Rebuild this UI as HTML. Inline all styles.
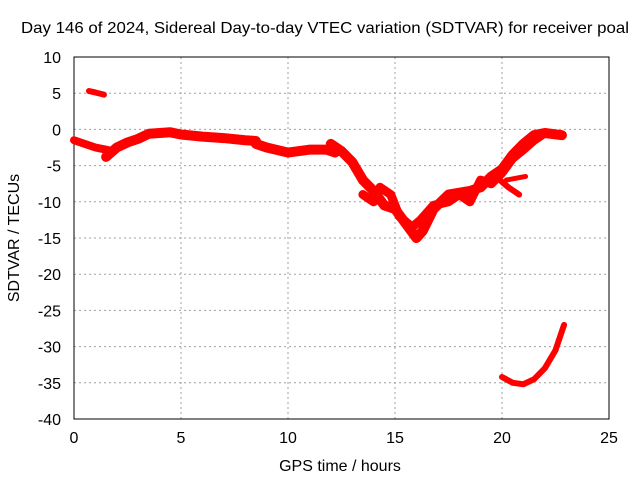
<!DOCTYPE html>
<html><head><meta charset="utf-8"><style>
body{margin:0;background:#fff}
svg text{font-family:"Liberation Sans",sans-serif;font-size:16px;fill:#000}
</style></head><body>
<svg id="c" width="640" height="480">
<rect x="0" y="0" width="640" height="480" fill="#fff"/>
<g id="grid"></g><g id="axes"></g><g id="data"></g>
<text x="325" y="33" text-anchor="middle" textLength="608" lengthAdjust="spacingAndGlyphs">Day 146 of 2024, Sidereal Day-to-day VTEC variation (SDTVAR) for receiver poal</text>
<text x="340" y="471" text-anchor="middle">GPS time / hours</text>
<text transform="translate(19,238) rotate(-90)" text-anchor="middle">SDTVAR / TECUs</text>
</svg>
<script>
const xTicks=[0,5,10,15,20,25];
const yTicks=[10,5,0,-5,-10,-15,-20,-25,-30,-35,-40];
const s1=[[0,-1.5],[0.5,-2],[1,-2.5],[1.5,-2.8],[1.8,-3]];
const s2=[[0.7,5.3],[1,5.1],[1.4,4.8]];
const s3=[[1.5,-3.8],[2,-2.5],[2.5,-1.8],[3,-1.3],[3.5,-0.6],[4,-0.5],[4.5,-0.4],[5,-0.7],[6,-1],[7,-1.2],[8,-1.5],[8.5,-1.6]];
const s4=[[8.5,-2],[9,-2.5],[10,-3.2],[11,-2.8],[11.8,-2.8],[12.2,-3.2]];
const s5=[[12,-2],[12.5,-3],[13,-4.5],[13.5,-7],[14,-8.5],[14.5,-10.5],[15,-11],[15.5,-13],[16,-15],[16.3,-14],[16.8,-11],[17.5,-9],[18.5,-8.5],[19,-8],[19.5,-6.5],[20,-5.5],[20.5,-3.5],[21,-2],[21.5,-0.8],[22,-0.5],[22.8,-0.8]];
const s6=[[13.5,-9],[14,-10],[14.3,-8],[14.8,-9],[15.2,-12],[15.8,-13.5],[16.2,-12.5],[16.8,-10.5],[17.5,-10],[18,-9],[18.5,-10],[19,-7],[19.5,-7.5],[20,-6],[20.5,-4],[21,-2.8],[21.5,-1.5],[22,-0.5],[22.8,-0.8]];
const s7=[[19.7,-6.5],[20.3,-8],[20.8,-9]];
const s8=[[20.2,-7],[21.1,-6.5]];
const s9=[[20,-34.2],[20.5,-35],[21,-35.2],[21.5,-34.5],[22,-33],[22.5,-30.5],[22.9,-27]];
const X=t=>74+t*(535/25), Y=v=>57+(10-v)*(362/50);
const NS='http://www.w3.org/2000/svg';
function mk(tag,attrs,parent){const e=document.createElementNS(NS,tag);for(const k in attrs)e.setAttribute(k,attrs[k]);document.getElementById(parent).appendChild(e);return e;}
xTicks.forEach(t=>{
 if(t>0&&t<25){const g=mk('line',{x1:X(t),x2:X(t),y1:57,y2:419,stroke:'#a0a0a0','stroke-dasharray':'2,3'},'grid');
 
 }
 const l=mk('text',{x:X(t),y:443,'text-anchor':'middle'},'axes');l.textContent=t;
 
 
});
yTicks.forEach(v=>{
 if(v<10&&v>-40){const g=mk('line',{x1:74,x2:609,y1:Y(v),y2:Y(v),stroke:'#a0a0a0','stroke-dasharray':'2,3'},'grid');
 
 }
 const l=mk('text',{x:61,y:Y(v)+6,'text-anchor':'end'},'axes');l.textContent=v;
 
 
});
const fr=mk('rect',{x:74,y:57,width:535,height:362,fill:'none',stroke:'#000'},'axes');


[[s1,8],[s2,6],[s3,10],[s4,10],[s5,10],[s6,9],[s7,6],[s8,5],[s9,6]].forEach(([s,w])=>{
 const p=mk('polyline',{points:s.map(d=>X(d[0])+','+Y(d[1])).join(' '),fill:'none',stroke:'#f00','stroke-width':w,'stroke-linejoin':'round','stroke-linecap':'round'},'data');
 
 
});
</script>
</body></html>
